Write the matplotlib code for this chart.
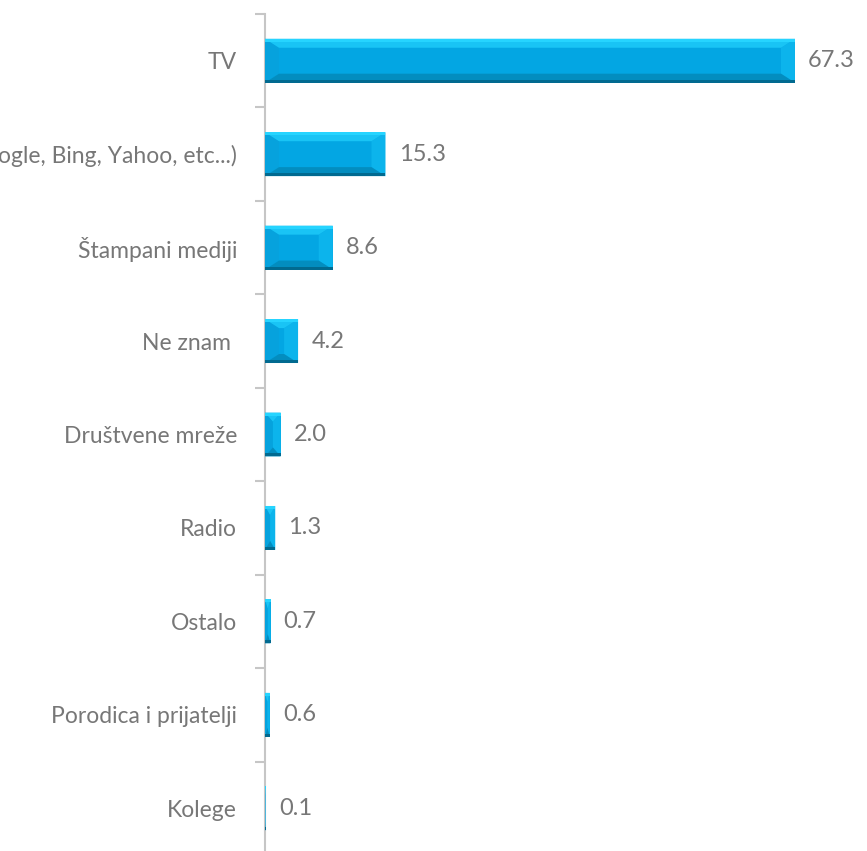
import matplotlib
matplotlib.use("Agg")
import matplotlib.pyplot as plt
from matplotlib.patches import Polygon
from matplotlib.transforms import IdentityTransform

categories = ["TV", "Internet (Google, Bing, Yahoo, etc...)", "Štampani mediji",
              "Ne znam ", "Društvene mreže", "Radio", "Ostalo",
              "Porodica i prijatelji", "Kolege"]
values = [67.3, 15.3, 8.6, 4.2, 2.0, 1.3, 0.7, 0.6, 0.1]
value_labels = ["67.3", "15.3", "8.6", "4.2", "2.0", "1.3", "0.7", "0.6", "0.1"]

plt.rcParams['font.family'] = ['Lato', 'DejaVu Sans']
TXT = '#777777'
AX = '#C6C6C6'

fig = plt.figure(figsize=(8.67, 8.51), dpi=100)
ax = fig.add_axes([265/867, -4/851, 1 - 265/867, (855-14)/851])
n = len(categories)
pos = list(range(n))
bars = ax.barh(pos, values, height=0.47, color='#03A6E3', edgecolor='none', zorder=2)
ax.set_xlim(0, 602/7.875)
ax.set_ylim(n - 0.5, -0.5)

for s in ['top', 'right', 'bottom']:
    ax.spines[s].set_visible(False)
ax.spines['left'].set_color(AX)
ax.spines['left'].set_linewidth(1.5)
ax.set_xticks([])
ax.set_yticks(pos)
ax.set_yticklabels(categories, fontsize=16.5, color=TXT)
ax.tick_params(axis='y', which='major', length=0, pad=20)
ax.set_yticks([p - 0.5 for p in range(n + 1)], minor=True)
ax.tick_params(axis='y', which='minor', length=7.5, color=AX, width=1.5, direction='out')

fig.canvas.draw()
tr = ax.transData
ident = IdentityTransform()
for b in bars:
    x0, y0 = b.get_x(), b.get_y()
    w, h = b.get_width(), b.get_height()
    (px0, py0) = tr.transform((x0, y0 + h))  # bottom-left in display (y inverted)
    (px1, py1) = tr.transform((x0 + w, y0))  # top-right
    W, H = px1 - px0, py1 - py0
    bvy = min(9.0, H / 2)
    bvx = min(14.0, W / 2)
    faces = [
        ([(px0, py0), (px0, py1), (px0 + bvx, py1 - bvy), (px0 + bvx, py0 + bvy)], '#06A2DD'),  # left
        ([(px1, py0), (px1, py1), (px1 - bvx, py1 - bvy), (px1 - bvx, py0 + bvy)], '#0CB4EC'),  # right
        ([(px0, py1), (px1, py1), (px1 - bvx, py1 - bvy), (px0 + bvx, py1 - bvy)], '#19C4F5'),  # top
        ([(px0, py0), (px1, py0), (px1 - bvx, py0 + bvy), (px0 + bvx, py0 + bvy)], '#038DBF'),  # bottom
    ]
    for pts, c in faces:
        ax.add_patch(Polygon(pts, closed=True, facecolor=c, edgecolor='none',
                             transform=ident, zorder=3))
    # bright top edge and dark bottom edge lines
    e = min(3.0, H / 4)
    ax.add_patch(Polygon([(px0, py1), (px1, py1), (px1, py1 - e), (px0, py1 - e)],
                         closed=True, facecolor='#26D4FF', edgecolor='none',
                         transform=ident, zorder=4))
    ax.add_patch(Polygon([(px0, py0), (px1, py0), (px1, py0 + e), (px0, py0 + e)],
                         closed=True, facecolor='#016A90', edgecolor='none',
                         transform=ident, zorder=4))

for b, lab in zip(bars, value_labels):
    ax.annotate(lab, (b.get_width(), b.get_y() + b.get_height() / 2),
                xytext=(9.5, 0), textcoords='offset points', va='center', ha='left',
                fontsize=17, color=TXT, annotation_clip=False)

fig.savefig('out.png', dpi=100)
